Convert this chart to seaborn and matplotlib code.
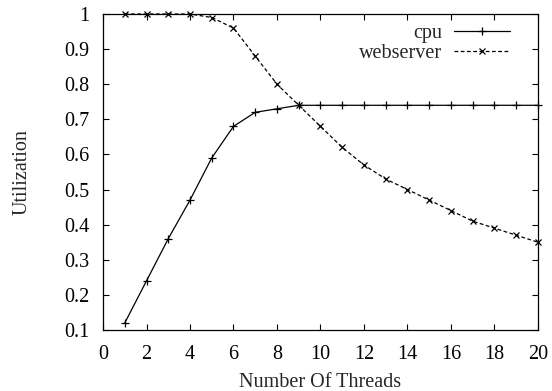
import matplotlib
matplotlib.use("Agg")
import matplotlib.pyplot as plt
import matplotlib.ticker as mticker
import seaborn as sns
import pandas as pd

threads = list(range(1, 21))
cpu = [0.12, 0.24, 0.36, 0.47, 0.59, 0.68, 0.72, 0.73, 0.74, 0.74,
       0.74, 0.74, 0.74, 0.74, 0.74, 0.74, 0.74, 0.74, 0.74, 0.74]
webserver = [1.00, 1.00, 1.00, 1.00, 0.99, 0.96, 0.88, 0.80, 0.74, 0.68,
             0.62, 0.57, 0.53, 0.50, 0.47, 0.44, 0.41, 0.39, 0.37, 0.35]
x_ticks = list(range(0, 21, 2))
y_ticks = [0.1, 0.2, 0.3, 0.4, 0.5, 0.6, 0.7, 0.8, 0.9, 1.0]

sns.set_style("ticks")
plt.rcParams["font.family"] = ["Liberation Serif", "DejaVu Serif"]

df = pd.DataFrame({"threads": threads, "cpu": cpu, "webserver": webserver})

fig = plt.figure(figsize=(5.52, 3.91), dpi=100)
ax = fig.add_axes([0.1866, 0.156, 0.788, 0.8082])

sns.lineplot(data=df, x="threads", y="cpu", ax=ax, color="black", lw=0.9,
             marker="+", markersize=5.5, markeredgewidth=0.9,
             markeredgecolor="black", label="cpu", clip_on=False)
sns.lineplot(data=df, x="threads", y="webserver", ax=ax, color="black", lw=0.9,
             linestyle=(0, (3, 2)), marker="x", markersize=4.2,
             markeredgewidth=0.9, markeredgecolor="black",
             label="webserver", clip_on=False)

ax.set_xlim(0, 20)
ax.set_ylim(0.1, 1.0)
ax.set_xticks(x_ticks)
ax.set_yticks(y_ticks)
ax.yaxis.set_major_formatter(mticker.FormatStrFormatter("%g"))
ax.tick_params(direction="in", length=4.5, width=0.8, top=True, right=True,
               labelsize=14.5, color="black", labelcolor="black")
ax.tick_params(axis="x", pad=11)
ax.tick_params(axis="y", pad=9.5)
for s in ax.spines.values():
    s.set_visible(True)
    s.set_linewidth(0.9)
    s.set_color("black")

ax.set_xlabel("Number Of Threads", fontsize=14.5, labelpad=6.5)
ax.set_ylabel("Utilization", fontsize=14.5, labelpad=23.5)

leg = ax.legend(loc="upper right", bbox_to_anchor=(0.955, 0.995),
                frameon=False, markerfirst=False, fontsize=14.5,
                handlelength=2.8, handletextpad=0.6, labelspacing=0.05,
                borderaxespad=0.0)
for t in leg.get_texts():
    t.set_ha("right")

fig.savefig("out.png", dpi=100)
